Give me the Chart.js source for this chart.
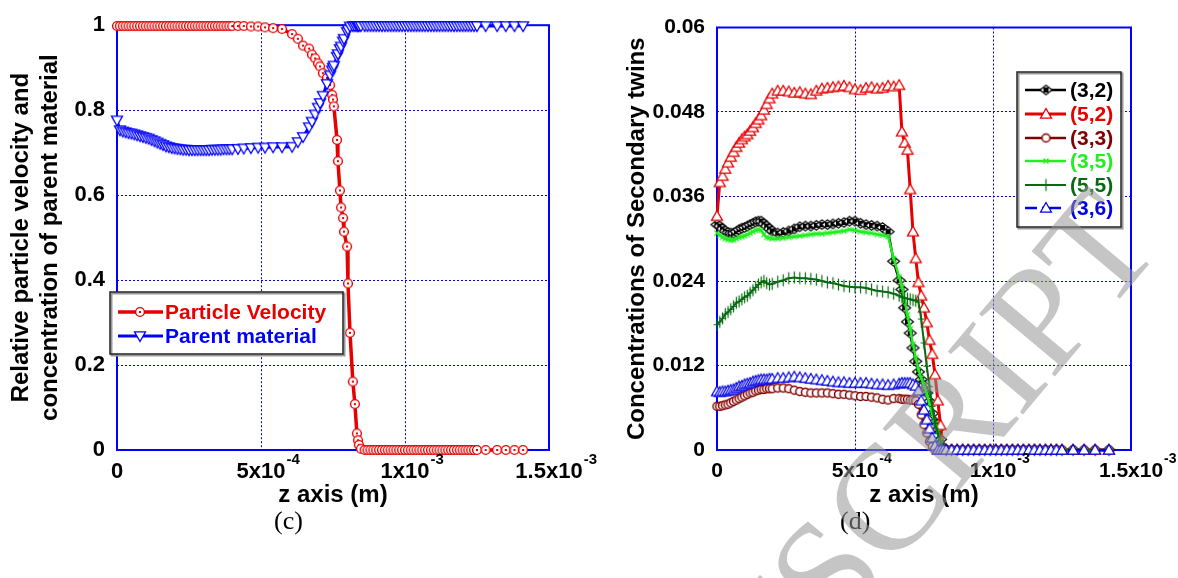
<!DOCTYPE html>
<html>
<head>
<meta charset="utf-8">
<script src="https://cdn.jsdelivr.net/npm/chart.js"></script>
<style>
  html, body { margin: 0; padding: 0; background: #fff; }
  #page { position: relative; width: 1178px; height: 578px; overflow: hidden; background: #fff; }
  canvas { position: absolute; top: 0; }
  #chartC { left: 0; }
  #chartD { left: 600px; }
  .caption { position: absolute; top: 508px; font: 26px 'Liberation Serif', 'Times New Roman', serif; line-height: 1; color: #000; }
  #watermark {
    position: absolute; left: 446px; top: 906px;
    font: 150px 'Liberation Serif', 'Times New Roman', serif; line-height: 1;
    color: rgba(150, 150, 150, 0.55); white-space: nowrap;
    transform-origin: 0 0; transform: rotate(-50deg);
  }
</style>
</head>
<body>
<div id="page">
  <canvas id="chartC" width="600" height="520"></canvas>
  <canvas id="chartD" width="578" height="520"></canvas>
  <div class="caption" style="left:274px">(c)</div>
  <div class="caption" style="left:840px">(d)</div>
  <div id="watermark">MANUSCRIPT</div>
</div>
<script>
// ---------- panel (c): z in units of 1e-3 m ----------
const zC = [0, 0.01, 0.02, 0.03, 0.04, 0.05, 0.06, 0.07, 0.08, 0.09,
  0.10, 0.11, 0.12, 0.13, 0.14, 0.15, 0.16, 0.17, 0.18, 0.19,
  0.20, 0.21, 0.22, 0.23, 0.24, 0.25, 0.26, 0.27, 0.28, 0.29,
  0.30, 0.31, 0.32, 0.33, 0.34, 0.35, 0.36, 0.37, 0.38, 0.39,
  0.40, 0.42, 0.44, 0.465, 0.49, 0.514, 0.542, 0.573, 0.608, 0.628,
  0.646, 0.667, 0.677, 0.688, 0.698, 0.705, 0.715, 0.729, 0.740, 0.747,
  0.750, 0.753, 0.764, 0.767, 0.774, 0.778, 0.785, 0.788, 0.799, 0.802,
  0.809, 0.819, 0.826, 0.833, 0.837, 0.840, 0.847,
  0.86, 0.87, 0.88, 0.89, 0.90, 0.91, 0.92, 0.93, 0.94, 0.95,
  0.96, 0.97, 0.98, 0.99, 1.00, 1.01, 1.02, 1.03, 1.04, 1.05,
  1.06, 1.07, 1.08, 1.09, 1.10, 1.11, 1.12, 1.13, 1.14, 1.15,
  1.16, 1.17, 1.18, 1.19, 1.20, 1.21, 1.22, 1.23, 1.24, 1.25,
  1.28, 1.32, 1.35, 1.38, 1.41];

const particleVelocity = [0.998, 0.998, 0.998, 0.998, 0.998, 0.998, 0.998, 0.998, 0.998, 0.998,
  0.998, 0.998, 0.998, 0.998, 0.998, 0.998, 0.998, 0.998, 0.998, 0.998,
  0.998, 0.998, 0.998, 0.998, 0.998, 0.998, 0.998, 0.998, 0.998, 0.998,
  0.998, 0.998, 0.998, 0.998, 0.998, 0.998, 0.998, 0.998, 0.998, 0.998,
  0.998, 0.998, 0.998, 0.997, 0.997, 0.995, 0.993, 0.991, 0.979, 0.968,
  0.952, 0.945, 0.931, 0.922, 0.910, 0.903, 0.887, 0.876, 0.859, 0.836,
  0.825, 0.809, 0.730, 0.680, 0.611, 0.571, 0.546, 0.514, 0.479, 0.392,
  0.276, 0.161, 0.108, 0.039, 0.023, 0.012, 0.003,
  0, 0, 0, 0, 0, 0, 0, 0, 0, 0,
  0, 0, 0, 0, 0, 0, 0, 0, 0, 0,
  0, 0, 0, 0, 0, 0, 0, 0, 0, 0,
  0, 0, 0, 0, 0, 0, 0, 0, 0, 0,
  0, 0, 0, 0, 0];

const parentMaterial = [0.776, 0.753, 0.750, 0.748, 0.746, 0.745, 0.743, 0.741, 0.739, 0.737,
  0.735, 0.733, 0.730, 0.727, 0.724, 0.721, 0.718, 0.715, 0.713, 0.711,
  0.710, 0.709, 0.708, 0.707, 0.707, 0.706, 0.706, 0.706, 0.706, 0.706,
  0.706, 0.706, 0.706, 0.707, 0.707, 0.707, 0.707, 0.708, 0.708, 0.708,
  0.708, 0.709, 0.710, 0.711, 0.712, 0.712, 0.713, 0.713, 0.714, 0.725,
  0.737, 0.760, 0.773, 0.790, 0.806, 0.817, 0.834, 0.862, 0.882, 0.894,
  0.900, 0.905, 0.926, 0.932, 0.944, 0.950, 0.962, 0.968, 0.984, 0.990,
  0.997, 0.998, 0.998, 0.998, 0.998, 0.998, 0.998,
  0.998, 0.998, 0.998, 0.998, 0.998, 0.998, 0.998, 0.998, 0.998, 0.998,
  0.998, 0.998, 0.998, 0.998, 0.998, 0.998, 0.998, 0.998, 0.998, 0.998,
  0.998, 0.998, 0.998, 0.998, 0.998, 0.998, 0.998, 0.998, 0.998, 0.998,
  0.998, 0.998, 0.998, 0.998, 0.998, 0.998, 0.998, 0.998, 0.998, 0.998,
  0.998, 0.998, 0.998, 0.998, 0.998];

// ---------- panel (d): z in units of 1e-3 m ----------
const zD = [0, 0.01, 0.02, 0.03, 0.04, 0.05, 0.06, 0.07, 0.08, 0.09,
  0.10, 0.11, 0.12, 0.13, 0.14, 0.15, 0.16, 0.17, 0.18, 0.19,
  0.20, 0.22, 0.24, 0.26, 0.28, 0.30, 0.32, 0.34, 0.36, 0.38,
  0.40, 0.42, 0.44, 0.46, 0.48, 0.50, 0.52, 0.54, 0.56, 0.58,
  0.60, 0.62, 0.64, 0.66, 0.67, 0.68, 0.69, 0.70, 0.71, 0.72,
  0.73, 0.74, 0.75, 0.76, 0.77, 0.78, 0.79, 0.80, 0.81, 0.82,
  0.83, 0.85, 0.87, 0.89, 0.91, 0.93, 0.95, 0.97, 0.99, 1.01,
  1.03, 1.05, 1.07, 1.09, 1.11, 1.13, 1.15, 1.17, 1.19, 1.21,
  1.23, 1.25, 1.29, 1.33, 1.37, 1.42];

const twin32 = [0.0320, 0.0318, 0.0314, 0.0311, 0.0309, 0.0308, 0.0308, 0.0310, 0.0313, 0.0315,
  0.0316, 0.0318, 0.0320, 0.0322, 0.0324, 0.0325, 0.0325, 0.0321, 0.0318, 0.0314,
  0.0311, 0.0308, 0.0309, 0.0311, 0.0314, 0.0317, 0.0318, 0.0318, 0.0319, 0.0320,
  0.0320, 0.0321, 0.0322, 0.0323, 0.0325, 0.0325, 0.0322, 0.0320, 0.0319, 0.0318,
  0.0316, 0.0310, 0.0268, 0.0241, 0.0228, 0.0202, 0.0182, 0.0166, 0.0145, 0.0126,
  0.0111, 0.0100, 0.0092, 0.0081, 0.0069, 0.0052, 0.0040, 0.0029, 0.0015, 0.0004,
  0, 0, 0, 0, 0, 0, 0, 0, 0, 0,
  0, 0, 0, 0, 0, 0, 0, 0, 0, 0,
  0, 0, 0, 0, 0, 0];

const twin52 = [0.0332, 0.0380, 0.0389, 0.0399, 0.0408, 0.0416, 0.0423, 0.0430, 0.0436, 0.0441,
  0.0445, 0.0448, 0.0453, 0.0458, 0.0464, 0.0469, 0.0475, 0.0483, 0.0491, 0.0499,
  0.0506, 0.0510, 0.0510, 0.0509, 0.0507, 0.0508, 0.0506, 0.0505, 0.0510, 0.0513,
  0.0514, 0.0515, 0.0516, 0.0517, 0.0515, 0.0512, 0.0511, 0.0514, 0.0515, 0.0513,
  0.0514, 0.0517, 0.0516, 0.0518, 0.0452, 0.0436, 0.0426, 0.0370, 0.0310, 0.0272,
  0.0238, 0.0219, 0.0202, 0.0181, 0.0156, 0.0136, 0.0107, 0.0070, 0.0035, 0.0003,
  0, 0, 0, 0, 0, 0, 0, 0, 0, 0,
  0, 0, 0, 0, 0, 0, 0, 0, 0, 0,
  0, 0, 0, 0, 0, 0];

const twin33 = [0.0062, 0.0062, 0.0063, 0.0064, 0.0065, 0.0067, 0.0069, 0.0071, 0.0073, 0.0075,
  0.0077, 0.0079, 0.0081, 0.0082, 0.0084, 0.0085, 0.0086, 0.0086, 0.0087, 0.0087,
  0.0087, 0.0088, 0.0088, 0.0087, 0.0085, 0.0083, 0.0082, 0.0081, 0.0081, 0.0081,
  0.0081, 0.0080, 0.0079, 0.0079, 0.0078, 0.0077, 0.0076, 0.0076, 0.0075, 0.0074,
  0.0072, 0.0071, 0.0073, 0.0073, 0.0072, 0.0072, 0.0072, 0.0071, 0.0071, 0.0070,
  0.0065, 0.0050, 0.0036, 0.0024, 0.0012, 0.0005, 0, 0, 0, 0,
  0, 0, 0, 0, 0, 0, 0, 0, 0, 0,
  0, 0, 0, 0, 0, 0, 0, 0, 0, 0,
  0, 0, 0, 0, 0, 0];

const twin35 = [0.0308, 0.0305, 0.0302, 0.0300, 0.0299, 0.0298, 0.0298, 0.0300, 0.0302, 0.0303,
  0.0304, 0.0306, 0.0308, 0.0310, 0.0312, 0.0313, 0.0312, 0.0306, 0.0302, 0.0301,
  0.0300, 0.0300, 0.0301, 0.0302, 0.0303, 0.0304, 0.0305, 0.0306, 0.0307, 0.0307,
  0.0308, 0.0309, 0.0310, 0.0311, 0.0313, 0.0312, 0.0310, 0.0309, 0.0308, 0.0306,
  0.0305, 0.0303, 0.0272, 0.0246, 0.0232, 0.0212, 0.0192, 0.0172, 0.0150, 0.0131,
  0.0114, 0.0102, 0.0092, 0.0080, 0.0066, 0.0052, 0.0038, 0.0026, 0.0014, 0.0004,
  0, 0, 0, 0, 0, 0, 0, 0, 0, 0,
  0, 0, 0, 0, 0, 0, 0, 0, 0, 0,
  0, 0, 0, 0, 0, 0];

const twin55 = [0.0178, 0.0182, 0.0187, 0.0193, 0.0196, 0.0200, 0.0204, 0.0209, 0.0211, 0.0214,
  0.0217, 0.0219, 0.0223, 0.0227, 0.0231, 0.0235, 0.0238, 0.0240, 0.0237, 0.0235,
  0.0236, 0.0239, 0.0241, 0.0244, 0.0245, 0.0244, 0.0244, 0.0243, 0.0242, 0.0240,
  0.0238, 0.0237, 0.0235, 0.0233, 0.0232, 0.0231, 0.0231, 0.0230, 0.0228, 0.0226,
  0.0225, 0.0224, 0.0222, 0.0219, 0.0217, 0.0216, 0.0215, 0.0214, 0.0213, 0.0212,
  0.0210, 0.0186, 0.0152, 0.0119, 0.0090, 0.0062, 0.0038, 0.0024, 0.0013, 0.0004,
  0, 0, 0, 0, 0, 0, 0, 0, 0, 0,
  0, 0, 0, 0, 0, 0, 0, 0, 0, 0,
  0, 0, 0, 0, 0, 0];

const twin36 = [0.0083, 0.0082, 0.0083, 0.0083, 0.0084, 0.0085, 0.0086, 0.0088, 0.0090, 0.0091,
  0.0093, 0.0094, 0.0095, 0.0097, 0.0098, 0.0099, 0.0100, 0.0100, 0.0100, 0.0101,
  0.0101, 0.0102, 0.0102, 0.0103, 0.0104, 0.0103, 0.0102, 0.0101, 0.0100, 0.0099,
  0.0098, 0.0097, 0.0096, 0.0096, 0.0095, 0.0095, 0.0095, 0.0095, 0.0094, 0.0093,
  0.0093, 0.0092, 0.0093, 0.0094, 0.0095, 0.0095, 0.0095, 0.0095, 0.0093, 0.0091,
  0.0084, 0.0070, 0.0057, 0.0043, 0.0030, 0.0017, 0.0006, 0, 0, 0,
  0, 0, 0, 0, 0, 0, 0, 0, 0, 0,
  0, 0, 0, 0, 0, 0, 0, 0, 0, 0,
  0, 0, 0, 0, 0, 0];

// ---------- ticks ----------
const xTicks = [0, 5e-4, 1e-3, 1.5e-3];
const xTickBases = ['0', '5x10', '1x10', '1.5x10'];
const xTickExponents = ['', '-4', '-3', '-3'];
const yTicksC = [0, 0.2, 0.4, 0.6, 0.8, 1];
const yTickLabelsC = ['0', '0.2', '0.4', '0.6', '0.8', '1'];
const yTicksD = [0, 0.012, 0.024, 0.036, 0.048, 0.06];
const yTickLabelsD = ['0', '0.012', '0.024', '0.036', '0.048', '0.06'];

const FONT = "'Liberation Sans', Arial, Helvetica, sans-serif";
const AXIS_BLUE = '#0000ff';
Chart.defaults.font.family = FONT;
Chart.defaults.color = '#000';

// open markers drawn once on small canvases (white fill hides the marker underneath)
function marker(shape, color, r, lw) {
  const s = Math.ceil(2 * r + lw + 3);
  const c = document.createElement('canvas');
  c.width = s; c.height = s;
  const g = c.getContext('2d');
  const m = s / 2;
  g.strokeStyle = color; g.fillStyle = '#fff'; g.lineWidth = lw;
  g.beginPath();
  if (shape === 'plus') {
    g.moveTo(m - r * 0.55, m); g.lineTo(m + r * 0.55, m);
    g.moveTo(m, m - r); g.lineTo(m, m + r);
    g.stroke();
    return c;
  }
  if (shape === 'x') {
    g.moveTo(m - r, m - r); g.lineTo(m + r, m + r);
    g.moveTo(m - r, m + r); g.lineTo(m + r, m - r);
    g.stroke();
    return c;
  }
  if (shape === 'circle' || shape === 'circleDot') g.arc(m, m, r, 0, Math.PI * 2);
  if (shape === 'triUp') { g.moveTo(m, m - r); g.lineTo(m + r, m + r * 0.75); g.lineTo(m - r, m + r * 0.75); g.closePath(); }
  if (shape === 'triDown') { g.moveTo(m, m + r); g.lineTo(m + r, m - r * 0.75); g.lineTo(m - r, m - r * 0.75); g.closePath(); }
  if (shape === 'diamond') { g.moveTo(m, m - r * 0.8); g.lineTo(m + r, m); g.lineTo(m, m + r * 0.8); g.lineTo(m - r, m); g.closePath(); }
  g.fill(); g.stroke();
  if (shape === 'circleDot') { g.fillStyle = color; g.fillRect(m - 1, m - 1, 2, 2); }
  if (shape === 'diamond') { g.fillStyle = color; g.fillRect(m - 2.5, m - 2.5, 5, 5); }
  return c;
}

function points(z, v) {
  return z.map((zz, i) => ({ x: zz * 1e-3, y: v[i] }));
}

function series(label, z, v, color, width, mk, order, dash) {
  return {
    label, data: points(z, v),
    borderColor: color, backgroundColor: color, borderWidth: width,
    borderDash: dash || [],
    pointStyle: mk, pointRadius: 4, pointHoverRadius: 4,
    tension: 0, clip: false, order
  };
}

// blue box round the plot area, drawn under the data
const plotFrame = {
  id: 'plotFrame',
  beforeDatasetsDraw(chart) {
    const { ctx, chartArea: a } = chart;
    ctx.save();
    ctx.strokeStyle = AXIS_BLUE;
    ctx.lineWidth = 2;
    ctx.strokeRect(a.left, a.top, a.right - a.left, a.bottom - a.top);
    ctx.restore();
  }
};

// raised powers of ten after the x tick labels
const tickExponents = {
  id: 'tickExponents',
  afterDraw(chart, args, o) {
    const sc = chart.scales.x;
    const ctx = chart.ctx;
    ctx.save();
    ctx.fillStyle = '#000';
    ctx.textAlign = 'left';
    ctx.textBaseline = 'top';
    xTicks.forEach((v, i) => {
      if (!xTickExponents[i]) return;
      ctx.font = 'bold ' + o.size + 'px ' + FONT;
      const w = ctx.measureText(xTickBases[i]).width;
      ctx.font = 'bold ' + o.expSize + 'px ' + FONT;
      ctx.fillText(xTickExponents[i], sc.getPixelForValue(v) + w / 2 + 1, sc.top + o.expTop);
    });
    ctx.restore();
  }
};

// legend box placed inside the plot, like the original figure
const legendBox = {
  id: 'legendBox',
  afterDatasetsDraw(chart, args, o) {
    const ctx = chart.ctx;
    ctx.save();
    ctx.fillStyle = '#fff';
    ctx.fillRect(o.x, o.y, o.w, o.h);
    ctx.strokeStyle = '#999';
    ctx.lineWidth = 2;
    ctx.strokeRect(o.x + 1.5, o.y + 1.5, o.w, o.h);
    ctx.strokeStyle = '#222';
    ctx.lineWidth = 1.5;
    ctx.strokeRect(o.x, o.y, o.w, o.h);
    ctx.font = 'bold ' + o.fontSize + 'px ' + FONT;
    ctx.textBaseline = 'middle';
    chart.data.datasets.forEach((ds, i) => {
      const y = o.rows[i];
      ctx.strokeStyle = ds.borderColor;
      ctx.lineWidth = ds.borderWidth;
      ctx.setLineDash(ds.borderDash);
      ctx.beginPath();
      ctx.moveTo(o.lineX1, y);
      ctx.lineTo(o.lineX2, y);
      ctx.stroke();
      ctx.setLineDash([]);
      const m = ds.pointStyle;
      ctx.drawImage(m, o.markX - m.width / 2, y - m.height / 2);
      ctx.fillStyle = ds.borderColor;
      ctx.fillText(ds.label, o.textX, y + 1);
    });
    ctx.restore();
  }
};

function panelScales(yTicks, yLabels, yMax, yTitle, yTitlePad, tickSize) {
  const grid = { color: AXIS_BLUE, lineWidth: 1, drawTicks: false };
  const border = { display: false, dash: [2, 2] };
  return {
    x: {
      type: 'linear', min: 0, max: 1.5e-3,
      afterBuildTicks: a => { a.ticks = xTicks.map(v => ({ value: v })); },
      afterFit: a => { a.height = 70; },
      grid, border,
      ticks: {
        padding: 9, autoSkip: false, maxRotation: 0, minRotation: 0,
        font: { size: tickSize, weight: 'bold' },
        callback: (v, i) => xTickBases[i]
      },
      title: {
        display: true, text: 'z axis (m)',
        font: { size: 24, weight: 'bold' }, padding: { top: 0, bottom: 10 }
      }
    },
    y: {
      type: 'linear', min: 0, max: yMax,
      afterBuildTicks: a => { a.ticks = yTicks.map(v => ({ value: v })); },
      afterFit: a => { a.width = 117; },
      grid, border,
      ticks: {
        padding: 12, autoSkip: false,
        font: { size: tickSize, weight: 'bold' },
        callback: (v, i) => yLabels[i]
      },
      title: {
        display: true, text: yTitle,
        font: { size: 24, weight: 'bold' }, padding: { top: yTitlePad, bottom: 0 }
      }
    }
  };
}

// ---------- (c) ----------
new Chart(document.getElementById('chartC'), {
  type: 'line',
  data: {
    datasets: [
      series('Particle Velocity', zC, particleVelocity, '#e60000', 3.5, marker('circleDot', '#e60000', 4.4, 1.4), 1),
      series('Parent material', zC, parentMaterial, '#0000ff', 3, marker('triDown', '#0000ff', 5.5, 1.3), 0)
    ]
  },
  options: {
    responsive: false, animation: false, devicePixelRatio: 1,
    layout: { padding: { left: 0, top: 16, right: 51, bottom: 0 } },
    scales: panelScales(yTicksC, yTickLabelsC, 1,
      ['Relative particle velocity and', 'concentration of parent material'], 7, 22),
    plugins: {
      legend: { display: false },
      tooltip: { enabled: false },
      tickExponents: { size: 22, expSize: 15, expTop: 2 },
      legendBox: { x: 110, y: 292, w: 233, h: 62, rows: [312, 336], lineX1: 118, lineX2: 163, markX: 140, textX: 165, fontSize: 21 }
    }
  },
  plugins: [plotFrame, legendBox, tickExponents]
});

// ---------- (d) ----------
new Chart(document.getElementById('chartD'), {
  type: 'line',
  data: {
    datasets: [
      series('(3,2)', zD, twin32, '#000000', 2.5, marker('diamond', '#000000', 6, 1.2), 5),
      series('(5,2)', zD, twin52, '#e60000', 3, marker('triUp', '#e60000', 5.5, 1.3), 4),
      series('(3,3)', zD, twin33, '#800000', 2.5, marker('circle', '#800000', 4, 1.5), 3),
      series('(3,5)', zD, twin35, '#22ee22', 2.5, marker('x', '#22ee22', 2.5, 1.2), 2),
      series('(5,5)', zD, twin55, '#0a6a14', 2, marker('plus', '#0a6a14', 6, 1.2), 1),
      series('(3,6)', zD, twin36, '#0000e6', 2.5, marker('triUp', '#0000e6', 5.5, 1.2), 0, [12, 5, 2, 5])
    ]
  },
  options: {
    responsive: false, animation: false, devicePixelRatio: 1,
    layout: { padding: { left: 0, top: 27.5, right: 47, bottom: 0 } },
    scales: panelScales(yTicksD, yTickLabelsD, 0.06, 'Concentrations of Secondary twins', 23, 21),
    plugins: {
      legend: { display: false },
      tooltip: { enabled: false },
      tickExponents: { size: 21, expSize: 14, expTop: 2 },
      legendBox: { x: 417, y: 72, w: 104, h: 155, rows: [90, 114, 138, 161, 185, 208], lineX1: 425, lineX2: 466, markX: 446, textX: 470, fontSize: 21 }
    }
  },
  plugins: [plotFrame, legendBox, tickExponents]
});
</script>
</body>
</html>
